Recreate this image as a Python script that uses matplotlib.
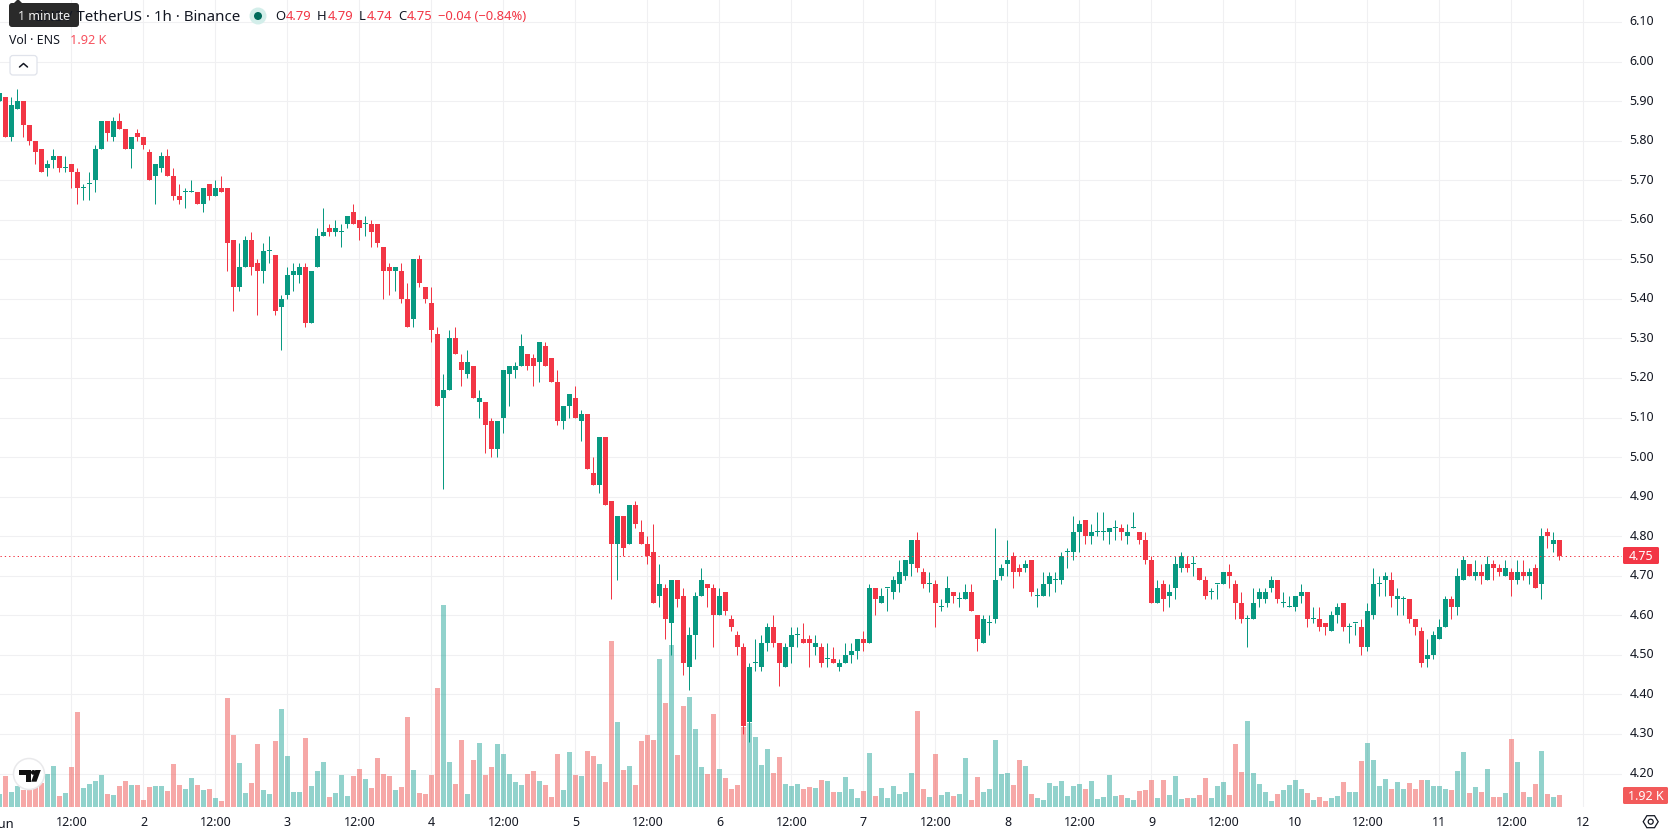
import numpy as np
import matplotlib
matplotlib.use("Agg")
import matplotlib.pyplot as plt
from matplotlib.patches import Circle, FancyBboxPatch, Polygon

plt.rcParams["font.family"] = ["Noto Sans", "DejaVu Sans"]

# Hourly ENS/USDT candles, one row per 12 hours, starting 1 June 00:00
opens = [
    5.90,5.91,5.81,5.88,5.90,5.84,5.80,5.78,5.73,5.75,5.76,5.73,
    5.74,5.72,5.68,5.69,5.70,5.78,5.85,5.81,5.85,5.83,5.78,5.82,
    5.81,5.77,5.71,5.73,5.76,5.71,5.66,5.67,5.67,5.67,5.64,5.69,
    5.66,5.68,5.68,5.55,5.43,5.48,5.55,5.49,5.47,5.52,5.51,5.38,
    5.41,5.46,5.46,5.48,5.34,5.48,5.56,5.58,5.57,5.57,5.59,5.62,
    5.60,5.59,5.59,5.59,5.53,5.48,5.47,5.47,5.40,5.35,5.50,5.43,
    5.39,5.31,5.15,5.17,5.30,5.24,5.21,5.23,5.14,5.14,5.09,5.02,
    5.10,5.21,5.22,5.23,5.26,5.25,5.24,5.28,5.25,5.19,5.09,5.13,
    5.15,5.09,5.11,4.96,4.93,5.05,4.89,4.78,4.85,4.78,4.88,4.81,
    4.78,4.76,4.65,4.67,4.58,4.69,4.65,4.47,4.55,4.65,4.68,4.67,
    4.60,4.66,4.59,4.55,4.52,4.33,4.48,4.47,4.53,4.57,4.53,4.47,
    4.52,4.55,4.54,4.54,4.52,4.52,4.49,4.49,4.47,4.48,4.50,4.51,
    4.54,4.53,4.67,4.63,4.67,4.66,4.68,4.70,4.73,4.79,4.71,4.68,
    4.68,4.62,4.63,4.66,4.64,4.64,4.66,4.60,4.53,4.58,4.59,4.70,
    4.73,4.75,4.72,4.72,4.74,4.65,4.65,4.68,4.69,4.69,4.76,4.76,
    4.81,4.84,4.80,4.81,4.81,4.81,4.82,4.82,4.80,4.82,4.81,4.79,
    4.74,4.63,4.68,4.65,4.67,4.72,4.73,4.73,4.72,4.69,4.66,4.68,
    4.68,4.71,4.68,4.63,4.59,4.59,4.64,4.64,4.67,4.69,4.63,4.62,
    4.62,4.65,4.66,4.59,4.59,4.58,4.56,4.60,4.63,4.57,4.58,4.57,
    4.52,4.60,4.68,4.69,4.69,4.64,4.64,4.64,4.59,4.56,4.49,4.50,
    4.54,4.57,4.64,4.62,4.69,4.73,4.70,4.71,4.69,4.73,4.72,4.70,
    4.71,4.69,4.71,4.70,4.72,4.68,4.81,4.78,4.79,
]
highs = [
    5.92,5.91,5.91,5.93,5.90,5.84,5.80,5.78,5.75,5.78,5.76,5.76,
    5.74,5.73,5.69,5.72,5.79,5.85,5.85,5.86,5.87,5.83,5.81,5.83,
    5.81,5.78,5.74,5.77,5.78,5.73,5.69,5.68,5.70,5.67,5.68,5.69,
    5.70,5.71,5.68,5.55,5.54,5.56,5.57,5.50,5.54,5.56,5.51,5.41,
    5.48,5.49,5.49,5.49,5.47,5.58,5.63,5.59,5.60,5.59,5.61,5.64,
    5.60,5.61,5.60,5.59,5.53,5.49,5.48,5.49,5.44,5.50,5.51,5.43,
    5.43,5.33,5.21,5.32,5.33,5.26,5.27,5.23,5.17,5.14,5.10,5.09,
    5.22,5.23,5.24,5.31,5.26,5.26,5.29,5.29,5.25,5.22,5.13,5.16,
    5.18,5.12,5.11,5.00,5.05,5.05,4.89,4.85,4.85,4.88,4.89,4.84,
    4.80,4.83,4.73,4.68,4.69,4.69,4.67,4.57,4.66,4.72,4.68,4.68,
    4.67,4.66,4.60,4.56,4.53,4.48,4.54,4.55,4.58,4.60,4.53,4.53,
    4.57,4.57,4.58,4.55,4.55,4.53,4.53,4.52,4.49,4.53,4.53,4.54,
    4.56,4.68,4.67,4.67,4.67,4.70,4.74,4.74,4.79,4.81,4.72,4.71,
    4.69,4.64,4.70,4.66,4.66,4.68,4.68,4.60,4.60,4.60,4.82,4.73,
    4.79,4.76,4.73,4.74,4.74,4.67,4.71,4.71,4.71,4.76,4.77,4.85,
    4.84,4.84,4.83,4.86,4.86,4.82,4.84,4.83,4.83,4.86,4.81,4.81,
    4.75,4.69,4.69,4.68,4.75,4.76,4.75,4.75,4.72,4.70,4.67,4.68,
    4.71,4.73,4.69,4.66,4.60,4.67,4.67,4.67,4.70,4.69,4.66,4.65,
    4.65,4.68,4.66,4.62,4.62,4.58,4.61,4.63,4.63,4.58,4.58,4.59,
    4.63,4.72,4.70,4.71,4.71,4.67,4.65,4.64,4.59,4.57,4.54,4.56,
    4.59,4.65,4.65,4.72,4.75,4.73,4.74,4.73,4.75,4.74,4.73,4.74,
    4.72,4.74,4.74,4.72,4.73,4.82,4.82,4.81,4.79,
]
lows = [
    5.90,5.81,5.80,5.88,5.81,5.79,5.74,5.72,5.71,5.73,5.72,5.72,
    5.68,5.64,5.65,5.65,5.67,5.78,5.80,5.80,5.83,5.78,5.73,5.80,
    5.78,5.70,5.64,5.72,5.71,5.65,5.64,5.63,5.67,5.64,5.62,5.65,
    5.66,5.67,5.47,5.37,5.42,5.48,5.46,5.36,5.44,5.49,5.36,5.27,
    5.40,5.42,5.44,5.33,5.34,5.48,5.56,5.56,5.56,5.53,5.58,5.59,
    5.55,5.56,5.53,5.53,5.40,5.41,5.42,5.39,5.33,5.33,5.43,5.39,
    5.29,5.13,4.92,5.17,5.26,5.18,5.20,5.15,5.10,5.01,5.00,5.00,
    5.06,5.13,5.20,5.23,5.22,5.18,5.19,5.23,5.19,5.08,5.07,5.10,
    5.10,5.04,4.97,4.93,4.91,4.88,4.64,4.69,4.75,4.78,4.82,4.78,
    4.73,4.63,4.62,4.54,4.50,4.62,4.45,4.41,4.49,4.65,4.62,4.52,
    4.60,4.60,4.56,4.50,4.30,4.28,4.46,4.46,4.51,4.52,4.42,4.47,
    4.48,4.52,4.53,4.47,4.50,4.47,4.47,4.48,4.46,4.48,4.48,4.49,
    4.51,4.53,4.60,4.63,4.61,4.64,4.66,4.69,4.70,4.71,4.67,4.66,
    4.57,4.61,4.62,4.63,4.62,4.64,4.61,4.51,4.53,4.55,4.58,4.69,
    4.70,4.67,4.70,4.71,4.65,4.62,4.65,4.65,4.66,4.68,4.72,4.74,
    4.76,4.78,4.78,4.80,4.79,4.78,4.79,4.79,4.78,4.82,4.78,4.73,
    4.63,4.63,4.61,4.62,4.64,4.71,4.71,4.70,4.69,4.64,4.64,4.64,
    4.68,4.67,4.59,4.58,4.52,4.59,4.62,4.63,4.66,4.63,4.62,4.62,
    4.61,4.63,4.57,4.58,4.56,4.55,4.56,4.58,4.56,4.53,4.55,4.50,
    4.51,4.59,4.65,4.65,4.62,4.60,4.60,4.58,4.55,4.47,4.47,4.49,
    4.54,4.57,4.59,4.60,4.69,4.70,4.69,4.68,4.69,4.69,4.70,4.70,
    4.65,4.68,4.69,4.68,4.67,4.64,4.77,4.76,4.74,
]
closes = [
    5.92,5.81,5.89,5.90,5.84,5.80,5.77,5.72,5.74,5.76,5.73,5.73,
    5.72,5.68,5.68,5.69,5.78,5.85,5.82,5.85,5.83,5.78,5.81,5.81,
    5.79,5.70,5.74,5.76,5.71,5.66,5.65,5.67,5.67,5.64,5.68,5.66,
    5.68,5.67,5.54,5.43,5.48,5.55,5.48,5.47,5.52,5.52,5.37,5.40,
    5.46,5.47,5.48,5.34,5.47,5.56,5.57,5.57,5.58,5.57,5.61,5.59,
    5.58,5.59,5.57,5.54,5.47,5.47,5.48,5.40,5.33,5.50,5.44,5.40,
    5.32,5.13,5.17,5.30,5.26,5.22,5.24,5.15,5.15,5.08,5.02,5.09,
    5.22,5.23,5.23,5.28,5.23,5.23,5.29,5.23,5.19,5.09,5.13,5.16,
    5.10,5.11,4.97,4.93,5.05,4.88,4.78,4.85,4.77,4.88,4.83,4.78,
    4.75,4.63,4.68,4.59,4.69,4.64,4.48,4.55,4.65,4.69,4.67,4.60,
    4.65,4.61,4.57,4.52,4.32,4.47,4.48,4.53,4.57,4.53,4.48,4.52,
    4.55,4.55,4.53,4.53,4.53,4.48,4.49,4.48,4.48,4.50,4.51,4.54,
    4.53,4.67,4.64,4.65,4.67,4.69,4.71,4.74,4.79,4.72,4.68,4.68,
    4.63,4.62,4.67,4.65,4.64,4.66,4.61,4.54,4.59,4.58,4.69,4.72,
    4.74,4.71,4.71,4.73,4.66,4.65,4.68,4.70,4.69,4.75,4.76,4.81,
    4.83,4.80,4.81,4.81,4.81,4.82,4.82,4.81,4.81,4.82,4.79,4.74,
    4.63,4.67,4.64,4.66,4.73,4.75,4.72,4.73,4.69,4.65,4.66,4.68,
    4.71,4.70,4.63,4.59,4.59,4.63,4.66,4.66,4.69,4.64,4.63,4.62,
    4.65,4.66,4.59,4.59,4.57,4.57,4.60,4.62,4.57,4.57,4.58,4.52,
    4.61,4.68,4.68,4.70,4.65,4.65,4.64,4.59,4.57,4.48,4.50,4.55,
    4.57,4.64,4.62,4.70,4.74,4.70,4.71,4.70,4.73,4.72,4.71,4.72,
    4.69,4.71,4.70,4.71,4.67,4.80,4.80,4.79,4.75,
]
# Traded volume per hour, in thousands of ENS
volume_k = [
    2.08,4.96,2.40,3.36,2.67,2.67,3.20,3.89,5.28,6.56,1.76,2.24,
    6.40,15.20,3.04,3.68,4.16,5.12,2.08,1.92,3.36,4.16,3.52,3.52,
    1.12,3.20,3.36,3.36,2.56,6.88,3.52,2.88,4.64,3.52,2.72,2.88,
    1.44,0.96,17.44,11.52,7.04,2.24,3.84,10.08,2.72,2.08,10.56,15.68,
    8.16,2.40,2.40,11.04,3.36,5.76,7.20,1.60,2.24,5.12,1.76,4.96,
    6.08,4.48,3.04,7.84,5.28,4.96,2.72,3.20,14.40,5.92,2.24,2.08,
    5.12,19.04,32.32,7.20,3.68,10.72,2.08,7.52,10.24,5.12,6.40,10.08,
    8.48,5.28,4.00,3.52,5.28,5.76,4.16,3.52,1.60,8.48,2.72,8.80,
    5.12,4.96,8.96,8.16,6.88,4.00,26.56,13.60,5.92,6.56,3.52,10.56,
    11.52,10.72,23.68,16.64,25.92,8.32,16.16,17.60,12.48,6.40,5.28,14.88,
    6.08,4.64,2.88,3.52,12.85,13.44,11.20,6.72,9.28,5.44,8.00,3.68,
    3.36,3.68,2.88,3.20,3.04,4.32,4.16,2.40,2.40,4.80,2.88,1.44,
    2.56,8.64,1.76,3.04,1.44,3.36,2.08,2.40,5.44,15.36,2.88,1.60,
    8.48,1.92,2.40,1.76,2.08,7.84,1.12,4.80,2.40,2.88,10.72,5.28,
    5.44,3.52,7.52,6.56,2.08,1.44,1.12,3.84,3.36,4.16,1.76,3.36,
    3.68,2.88,4.16,1.28,1.60,5.12,1.76,1.92,1.44,1.12,2.56,2.72,
    4.32,1.44,4.32,1.92,4.96,1.28,1.44,1.44,1.92,4.64,1.44,3.36,
    4.00,1.92,10.08,5.60,13.76,5.44,3.68,2.40,0.96,2.08,2.72,3.52,
    4.32,2.88,2.24,1.12,1.60,0.96,1.44,1.76,4.00,2.40,2.40,7.36,
    10.24,7.52,3.36,4.48,2.88,4.00,2.88,3.84,2.88,4.32,4.32,3.36,
    3.36,2.88,2.72,5.76,8.80,2.24,3.20,2.40,6.08,1.60,1.60,2.24,
    10.88,7.20,2.40,1.60,3.68,8.96,2.08,1.60,1.92,
]
price_ticks = [4.20,4.30,4.40,4.50,4.60,4.70,4.80,4.90,5.00,5.10,5.20,5.30,5.40,5.50,5.60,5.70,5.80,5.90,6.00,6.10]
time_tick_hours = [12,24,36,48,60,72,84,96,108,120,132,144,156,168,180,192,204,216,228,240,252,264]
time_tick_labels = ["12:00","2","12:00","3","12:00","4","12:00","5","12:00","6","12:00","7",
                    "12:00","8","12:00","9","12:00","10","12:00","11","12:00","12"]
last_price = 4.75

W, H = 1678, 835
PANE_R, PANE_B = 1622, 807
PX_PER_HOUR = 6.0
PX_PER_UNIT = 395.56
PX_PER_K = 6.25
UP, DOWN = "#089981", "#F23645"
INK = "#131722"
GRID = "#F0F0F2"

o, h, l, c = map(np.array, (opens, highs, lows, closes))
hours = np.arange(len(o))
up = c >= o

fig = plt.figure(figsize=(W / 100, H / 100), dpi=100, facecolor="white")
rect = [0, 1 - PANE_B / H, PANE_R / W, PANE_B / H]
xlim = (0.5 / PX_PER_HOUR, (PANE_R + 0.5) / PX_PER_HOUR)
ylim = (6 - (PANE_B - 61.5) / PX_PER_UNIT, 6 + 61.5 / PX_PER_UNIT)

# Bottom layer: grid and axis labels
ax = fig.add_axes(rect)
ax.set_xlim(xlim)
ax.set_ylim(ylim)
ax.set_xticks(time_tick_hours, time_tick_labels)
ax.set_yticks(price_ticks, [f"{p:.2f}" for p in price_ticks])
ax.yaxis.tick_right()
ax.tick_params(axis="both", length=0, labelsize=9.0, labelcolor=INK)
ax.tick_params(axis="x", pad=6.2)
ax.tick_params(axis="y", pad=5.3)
for t in ax.get_yticklabels():
    t.set_verticalalignment("center")
ax.grid(True, color=GRID, linewidth=0.8)
ax.set_axisbelow(True)
for s in ax.spines.values():
    s.set_visible(False)

# Middle layer: translucent volume columns
vax = fig.add_axes(rect, frameon=False)
vax.set_xlim(xlim)
vax.set_ylim(0, PANE_B / PX_PER_K)
vax.axis("off")
vol_colors = np.where(up, "#26A69A", "#EF5350")
vax.bar(hours, volume_k, width=5 / PX_PER_HOUR, color=vol_colors, alpha=0.5, linewidth=0)

# Top layer: candles and last-price line
cax = fig.add_axes(rect, frameon=False)
cax.set_xlim(xlim)
cax.set_ylim(ylim)
cax.axis("off")
candle_colors = np.where(up, UP, DOWN)
cax.vlines(hours, l, h, colors=candle_colors, linewidth=0.72)
bodies = np.maximum(np.abs(c - o), 1 / PX_PER_UNIT)
cax.bar(hours, bodies, bottom=np.minimum(o, c), width=5 / PX_PER_HOUR,
        color=candle_colors, linewidth=0)
cax.axhline(last_price, color=DOWN, linewidth=0.72, linestyle=(0, (1.3, 3)))

# Interface furniture, laid out in pixel coordinates
ui = fig.add_axes([0, 0, 1, 1], frameon=False)
ui.set_xlim(0, W)
ui.set_ylim(H, 0)
ui.axis("off")

def label(x, y, s, color=INK, size=12.5, ha="left", weight="normal"):
    ui.text(x, y, s, color=color, fontsize=size * 0.72, ha=ha, va="center_baseline",
            fontweight=weight, clip_on=False)

# Header line
label(240.5, 15.5, "ENS / TetherUS · 1h · Binance", size=15, ha="right")
ui.add_patch(Circle((258, 16), 8.5, fc="#D3EEEA", ec="none"))
ui.add_patch(Circle((258, 16), 4, fc="#006B5B", ec="none"))
for x, s, col in [(275, "O", INK), (286, "4.79", DOWN), (317, "H", INK), (327.5, "4.79", DOWN),
                  (359, "L", INK), (366.5, "4.74", DOWN), (398, "C", INK), (406.5, "4.75", DOWN),
                  (438.5, "−0.04 (−0.84%)", DOWN)]:
    label(x, 15.5, s, color=col, size=13)
label(9, 39.5, "Vol · ENS", size=12.4)
label(70, 39.5, "1.92 K", color="#F7525F", size=12.7)

# Collapse button
ui.add_patch(FancyBboxPatch((10, 55.5), 27, 19.5, boxstyle="round,pad=0,rounding_size=3",
                            fc="white", ec="#E0E3EB", lw=0.9))
ui.plot([19.5, 23.5, 27.5], [67, 63.5, 67], color=INK, lw=1.1, solid_capstyle="round")

# Tooltip sitting over the header
ui.add_patch(FancyBboxPatch((9, 3), 70, 24, boxstyle="round,pad=0,rounding_size=3",
                            fc="#2A2A2A", ec="none"))
ui.add_patch(Polygon([(13, 4), (18, -1), (23, 4)], closed=True, fc="#2A2A2A", ec="none"))
label(44, 15.5, "1 minute", color="#F0F0F0", size=12.5, ha="center")

# Month label at the left edge and the price/volume tags on the scale
label(-5.5, 822, "Jun", size=13, ha="left", weight="bold")
ui.add_patch(FancyBboxPatch((1623, 547), 36, 17, boxstyle="round,pad=0,rounding_size=1.5",
                            fc=DOWN, ec="none"))
label(1641, 555, f"{last_price:.2f}", color="white", size=12.5, ha="center")
ui.add_patch(FancyBboxPatch((1623, 787), 45, 17, boxstyle="round,pad=0,rounding_size=1.5",
                            fc="#F25A5A", ec="none"))
label(1645.5, 795, "1.92 K", color="white", size=12.5, ha="center")

# Settings button
hx, hy = 1650.7, 821.7
ui.add_patch(Polygon([(hx - 7.5, hy), (hx - 3.8, hy - 6), (hx + 3.8, hy - 6),
                      (hx + 7.5, hy), (hx + 3.8, hy + 6), (hx - 3.8, hy + 6)],
                     closed=True, fc="none", ec=INK, lw=0.9))
ui.add_patch(Circle((hx, hy), 2.5, fc="none", ec=INK, lw=0.9))

# Attribution badge
ui.add_patch(Circle((29, 774), 15.5, fc="white", ec="#E9E9EB", lw=1.1))
ui.add_patch(Polygon([(19, 770), (31, 770), (31, 781.7), (26, 781.7), (26, 775), (19, 775)],
                     closed=True, fc="#111111", ec="none"))
ui.add_patch(Circle((33.3, 772.4), 2.4, fc="#111111", ec="none"))
ui.add_patch(Polygon([(35.3, 770), (40.8, 770), (36.5, 781.7), (31.2, 781.7)],
                     closed=True, fc="#111111", ec="none"))

fig.savefig("out.png", dpi=100, facecolor="white")
